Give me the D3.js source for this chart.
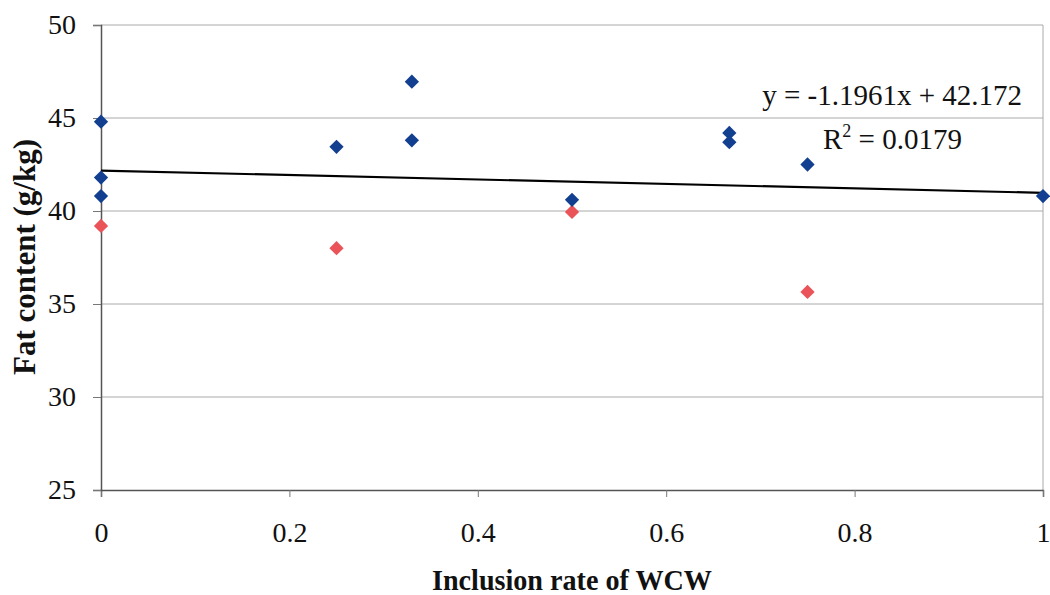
<!DOCTYPE html>
<html>
<head>
<meta charset="utf-8">
<script src="https://cdn.jsdelivr.net/npm/d3@7"></script>
<style>
  html, body { margin: 0; padding: 0; background: #fff; }
  svg text { font-family: "Liberation Serif", "DejaVu Serif", serif; fill: #111; }
</style>
</head>
<body>
<svg id="chart" width="1050" height="595"></svg>
<script>
// Inclusion rate of WCW (x) and fat content in g/kg (y)
const blueX = [0, 0, 0, 0.25, 0.33, 0.33, 0.5, 0.667, 0.667, 0.75, 1];
const blueY = [44.8, 41.8, 40.8, 43.45, 46.95, 43.8, 40.6, 44.2, 43.7, 42.5, 40.8];
const redX = [0, 0.25, 0.5, 0.75];
const redY = [39.2, 38.0, 39.95, 35.65];

// Linear trendline fitted over all points
const slope = -1.1961;
const intercept = 42.172;
const rSquared = 0.0179;

const xTicks = [0, 0.2, 0.4, 0.6, 0.8, 1];
const yTicks = [25, 30, 35, 40, 45, 50];

const svg = d3.select("#chart");
const plotLeft = 101, plotRight = 1043, plotTop = 25, plotBottom = 490;

const x = d3.scaleLinear().domain([0, 1]).range([plotLeft, plotRight]);
const y = d3.scaleLinear().domain([25, 50]).range([plotBottom, plotTop]);

// Horizontal gridlines
svg.append("g")
  .selectAll("line")
  .data(yTicks.filter(t => t > 25))
  .join("line")
  .attr("x1", plotLeft).attr("x2", plotRight)
  .attr("y1", d => y(d)).attr("y2", d => y(d))
  .attr("stroke", "#aaa").attr("stroke-width", 1);

// Right border of the plot area
svg.append("line")
  .attr("x1", plotRight).attr("x2", plotRight)
  .attr("y1", plotTop).attr("y2", plotBottom)
  .attr("stroke", "#aaa").attr("stroke-width", 1);

// Axes
const xAxis = d3.axisBottom(x).tickValues(xTicks).tickSize(7).tickPadding(25)
  .tickFormat(d => String(+d.toFixed(1)));
const gx = svg.append("g").attr("transform", `translate(0,${plotBottom})`).call(xAxis);
gx.select(".domain").attr("stroke", "#555").attr("stroke-width", 1.5);
gx.selectAll(".tick line").attr("stroke", "#777");
gx.selectAll(".tick text").attr("font-size", 28).attr("fill", "#111");

const yAxis = d3.axisLeft(y).tickValues(yTicks).tickSize(8).tickPadding(17);
const gy = svg.append("g").attr("transform", `translate(${plotLeft},0)`).call(yAxis);
gy.select(".domain").attr("stroke", "#555").attr("stroke-width", 1.5);
gy.selectAll(".tick line").attr("stroke", "#777");
gy.selectAll(".tick text").attr("font-size", 28).attr("fill", "#111");

// Trendline
svg.append("line")
  .attr("x1", x(0)).attr("y1", y(intercept))
  .attr("x2", x(1)).attr("y2", y(intercept + slope))
  .attr("stroke", "#000").attr("stroke-width", 2.2);

// Diamond markers
const diamond = d3.symbol().type(d3.symbolDiamond2).size(130);
const redPts = redX.map((v, i) => [v, redY[i]]);
const bluePts = blueX.map((v, i) => [v, blueY[i]]);

svg.append("g").selectAll("path").data(redPts).join("path")
  .attr("d", diamond)
  .attr("transform", d => `translate(${x(d[0])},${y(d[1])})`)
  .attr("fill", "#ea5358");

svg.append("g").selectAll("path").data(bluePts).join("path")
  .attr("d", diamond)
  .attr("transform", d => `translate(${x(d[0])},${y(d[1])})`)
  .attr("fill", "#123f8f");

// Regression equation
svg.append("text")
  .attr("x", 1022).attr("y", 105)
  .attr("text-anchor", "end").attr("font-size", 29)
  .text(`y = ${slope}x + ${intercept}`);

const r2 = svg.append("text")
  .attr("x", 823).attr("y", 149)
  .attr("font-size", 29);
r2.append("tspan").text("R");
r2.append("tspan").attr("font-size", 18).attr("dy", -12).text("2");
r2.append("tspan").attr("dy", 12).text(` = ${rSquared}`);

// Axis titles
svg.append("text")
  .attr("x", 572).attr("y", 590)
  .attr("text-anchor", "middle")
  .attr("font-size", 30).attr("font-weight", "bold")
  .attr("textLength", 280).attr("lengthAdjust", "spacingAndGlyphs")
  .text("Inclusion rate of WCW");

svg.append("text")
  .attr("transform", "translate(35,257) rotate(-90)")
  .attr("text-anchor", "middle")
  .attr("font-size", 31).attr("font-weight", "bold")
  .text("Fat content (g/kg)");
</script>
</body>
</html>
